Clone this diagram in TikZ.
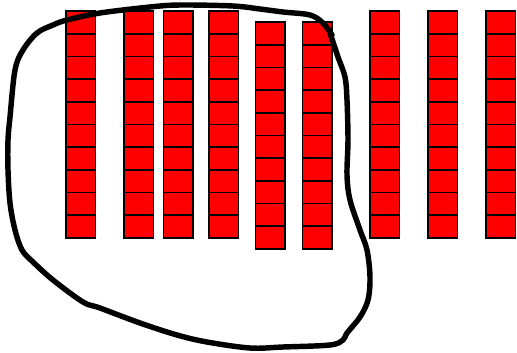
\documentclass[tikz,border=0pt]{standalone}
\usepackage{xcolor}
\usepackage{tikz}
\definecolor{tilered}{HTML}{FF0000}
\tikzset{
  tile/.style={
    draw=black,
    fill=tilered,
    line width=0.9pt,
    inner sep=0pt,
    minimum width=5.9mm,
    minimum height=4.5mm
  },
  lasso/.style={draw=black, line width=3.1pt, line cap=round, line join=round}
}

\begin{document}
\begin{tikzpicture}[x=0.2mm,y=-0.2mm]
  \path[use as bounding box] (0,0) rectangle (517,352);

  % nine columns of ten tiles
  \foreach \col/\cx/\ctop in {1/80.9/11, 2/138.9/11, 3/178.4/11, 4/223.9/11,
      5/270.4/22, 6/317.4/22, 7/384.9/11, 8/442.9/11, 9/500.9/11} {
    \foreach \row in {1,...,10} {
      \node[tile] (c\col r\row) at (\cx, {\ctop+(\row-0.5)*22.7}) {};
    }
  }

  % hand drawn loop
  \draw[lasso] plot[smooth, tension=0.55] coordinates {
    (330,33) (338,57) (345,77) (347,100) (348,140) (347,175) (350,200)
    (360,230) (367,250) (370,277) (368,300) (360,317) (347,333) (343,340)
    (330,345) (283,347) (250,348) (207,342) (177,335) (140,323) (100,308)
    (83,302) (53,280) (33,262) (22,250) (15,230) (10,203) (8,170) (8,140)
    (10,117) (15,70) (23,50) (37,33) (53,25) (67,20) (100,13) (150,7)
    (180,5) (233,6) (260,9) (283,12) (310,15) (323,23) (332,35)};
\end{tikzpicture}
\end{document}
